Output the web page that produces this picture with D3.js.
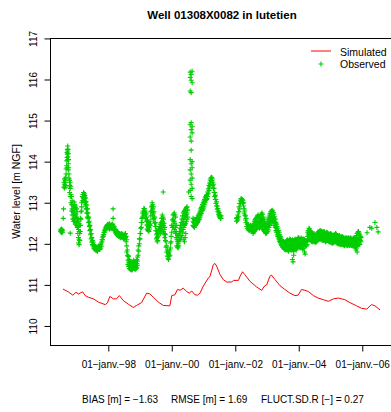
<!DOCTYPE html>
<html>
<head>
<meta charset="utf-8">
<script src="https://cdn.jsdelivr.net/npm/d3@7"></script>
<style>
  html, body { margin: 0; padding: 0; background: #fff; }
  svg { display: block; font-family: "Liberation Sans", Arial, Helvetica, sans-serif; }
</style>
</head>
<body>
<svg id="chart" width="391" height="412"></svg>
<script>
// ---------------- DATA ----------------
const chartTitle = "Well 01308X0082 in lutetien";
const yLabel = "Water level [m NGF]";
const statsTexts = ["BIAS [m] = \u22121.63", "RMSE [m] = 1.69", "FLUCT.SD.R [\u2212] = 0.27"];
const legendLabels = ["Simulated", "Observed"];

const xTickDates = ["1998-01-01", "2000-01-01", "2002-01-01", "2004-01-01", "2006-01-01"];
const xTickLabels = ["01\u2212janv.\u221298", "01\u2212janv.\u221200", "01\u2212janv.\u221202", "01\u2212janv.\u221204", "01\u2212janv.\u221206"];
const yTicks = [110, 111, 112, 113, 114, 115, 116, 117];

// Simulated series (decimal year, level)
const simYears = [1996.57,1996.74,1996.88,1996.98,1997.06,1997.11,1997.19,1997.27,1997.37,1997.53,1997.69,1997.90,1997.97,1998.05,1998.16,1998.26,1998.35,1998.47,1998.63,1998.79,1998.89,1999.05,1999.21,1999.31,1999.42,1999.58,1999.73,1999.94,2000.00,2000.10,2000.18,2000.26,2000.36,2000.47,2000.55,2000.63,2000.73,2000.81,2000.89,2000.99,2001.15,2001.20,2001.31,2001.36,2001.41,2001.52,2001.62,2001.73,2001.89,2001.94,2002.10,2002.15,2002.23,2002.30,2002.46,2002.67,2002.83,2002.93,2002.99,2003.09,2003.14,2003.25,2003.41,2003.56,2003.72,2003.88,2003.98,2004.09,2004.19,2004.30,2004.46,2004.61,2004.77,2004.93,2005.09,2005.24,2005.35,2005.45,2005.61,2005.82,2005.98,2006.14,2006.29,2006.40,2006.56];
const simLevels = [110.90,110.83,110.75,110.82,110.78,110.80,110.83,110.74,110.70,110.66,110.58,110.52,110.56,110.72,110.66,110.66,110.74,110.62,110.53,110.45,110.50,110.57,110.80,110.78,110.70,110.58,110.50,110.49,110.74,110.76,110.89,110.87,110.92,110.84,110.80,110.85,110.76,110.75,110.80,110.97,111.17,111.20,111.50,111.52,111.46,111.25,111.13,111.07,111.07,111.11,111.11,111.21,111.32,111.25,111.09,110.95,110.87,110.98,111.00,111.21,111.24,111.13,110.98,110.89,110.80,110.74,110.75,110.89,110.87,110.84,110.74,110.68,110.64,110.60,110.66,110.68,110.66,110.64,110.57,110.49,110.43,110.41,110.52,110.49,110.39];

// Observed series: each row = [decimal year, level, level, ...]
const observed = [
[1996.50,112.30,112.34],[1996.52,112.27,112.32,112.36],[1996.54,112.29,112.35],[1996.56,112.28,112.33],
[1996.58,112.62],[1996.59,112.85],
[1996.60,113.38,113.50],[1996.62,113.45,113.58,113.36],[1996.64,113.42,113.55],[1996.66,113.50,113.38,113.62],
[1996.67,113.70,113.82],[1996.69,113.90,114.02],[1996.70,114.10,114.22,113.85],[1996.71,114.30,114.18],[1996.72,114.38,114.26,114.05],[1996.73,114.12,114.30],[1996.74,113.95,113.80,114.20],[1996.75,113.85,114.05],[1996.76,113.70,113.60],
[1996.78,113.55,113.42,113.25],[1996.80,113.50,113.35,113.15,112.26],[1996.82,113.40,113.20,113.00],[1996.84,113.15,112.95,112.80],[1996.86,113.05,112.85,112.70],
[1996.88,112.95,112.78,112.60],[1996.90,112.90,112.70,112.55],[1996.92,113.02,112.82,112.62],[1996.94,112.95,112.75,112.55],[1996.96,112.88,112.68,112.48],[1996.98,112.92,112.72,112.52],[1997.00,112.85,112.65,112.45],[1997.02,112.78,112.58,112.40],[1997.04,112.60,112.42,112.25],[1997.06,112.55,112.35,112.15,112.02],[1997.08,112.50,112.30,112.10,111.98],[1997.10,112.45,112.25,112.08],[1997.12,112.62,112.45,112.30],[1997.14,112.78,112.60],
[1997.16,112.90,113.00,112.80],[1997.18,113.05,113.15],[1997.20,113.12,113.20],[1997.22,113.20,113.25,113.10],[1997.24,113.22,113.15,113.05],[1997.26,113.18,113.10,113.00],[1997.28,113.12,113.02,112.95],[1997.30,113.02,112.92,112.85],[1997.32,112.95,112.85,112.75],[1997.34,112.85,112.75,112.65],[1997.36,112.75,112.62],[1997.38,112.65,112.52],[1997.40,112.55,112.42],[1997.42,112.45,112.32],[1997.44,112.35,112.22],[1997.46,112.25,112.12],[1997.48,112.15,112.04],[1997.50,112.08,111.98],[1997.52,112.04,111.95],[1997.54,111.98,111.90],
[1997.56,111.96,111.88],[1997.58,111.94,111.86],[1997.60,111.92,111.85],[1997.62,111.90,111.83],[1997.64,111.92,111.84],[1997.66,111.89,111.82],[1997.68,111.93,111.86],[1997.70,111.95,111.88],[1997.72,111.92,111.86],[1997.74,111.94,111.87],[1997.76,111.98,111.90],[1997.78,112.02,111.94],
[1997.80,112.05,112.10],[1997.82,112.10,112.16],[1997.84,112.18,112.22],[1997.86,112.22,112.28],[1997.88,112.28,112.33],[1997.90,112.32,112.36],[1997.92,112.35,112.40],[1997.94,112.37,112.43],[1997.96,112.40,112.45],[1997.98,112.42,112.47],[1998.00,112.40,112.46],[1998.02,112.38,112.45,112.48],
[1998.04,112.42,112.48,112.36],[1998.06,112.44,112.38],[1998.08,112.46,112.40],[1998.10,112.45,112.38],[1998.12,112.42,112.47],[1998.14,112.40,112.48],[1998.15,112.85,112.62],[1998.16,112.43,112.36],[1998.18,112.42,112.35],[1998.20,112.38,112.32],
[1998.22,112.35,112.28],[1998.24,112.33,112.26],[1998.26,112.30,112.22],[1998.28,112.30,112.23],[1998.30,112.28,112.20],[1998.32,112.26,112.19],[1998.34,112.25,112.18],[1998.36,112.24,112.17],[1998.38,112.22,112.15],[1998.40,112.24,112.16],[1998.42,112.25,112.18],[1998.44,112.23,112.16],[1998.46,112.22,112.15],[1998.48,112.21,112.13],[1998.50,112.20,112.12],[1998.52,112.23,112.14],[1998.54,112.25,112.15],[1998.56,112.18,112.05],
[1998.58,112.10,111.95,111.80],[1998.60,111.85,111.72],[1998.62,111.70,111.60,111.50],
[1998.64,111.70,111.55,111.45],[1998.66,111.62,111.50,111.40],[1998.68,111.58,111.47,111.39],[1998.70,111.55,111.45,111.38],[1998.72,111.52,111.43,111.37],[1998.74,111.50,111.42,111.36],[1998.76,111.54,111.44,111.38],[1998.78,111.56,111.46,111.40],[1998.80,111.60,111.50,111.42],[1998.82,111.56,111.47,111.40],[1998.84,111.52,111.45,111.38],[1998.86,111.55,111.46,111.39],[1998.88,111.58,111.48,111.40],[1998.90,111.62,111.52,111.43],[1998.92,111.68,111.58,111.48],
[1998.94,111.72,111.85],[1998.96,111.82,111.95],[1998.98,112.00,112.12],[1999.00,112.12,112.25],[1999.02,112.25,112.38],[1999.04,112.40,112.52],[1999.06,112.52,112.62],
[1999.08,112.65,112.75],[1999.10,112.70,112.80],[1999.12,112.75,112.86],[1999.14,112.78,112.85],[1999.16,112.80,112.70],[1999.18,112.72,112.62],[1999.20,112.65,112.55,112.75],
[1999.22,112.58,112.46,112.36],[1999.24,112.55,112.44,112.34],[1999.26,112.52,112.42,112.32],[1999.28,112.50,112.40,112.30],[1999.30,112.48,112.36],[1999.32,112.55,112.45],
[1999.34,112.68,112.78],[1999.36,112.80,112.90],[1999.38,112.92,113.00,112.78],[1999.40,112.95,112.85,112.70],[1999.42,112.90,112.75,112.60],[1999.44,112.78,112.62],[1999.46,112.65,112.50],[1999.48,112.52,112.42],
[1999.50,112.42,112.32],[1999.52,112.32,112.22,112.12],[1999.54,112.25,112.15,112.05],[1999.56,112.30,112.18,112.08],[1999.58,112.35,112.22],[1999.60,112.38,112.28],
[1999.62,112.42,112.32],[1999.64,112.48,112.36,112.26],[1999.66,112.52,112.40,112.28],[1999.68,112.62,112.48,112.35],[1999.70,112.70,112.55,112.40],[1999.72,112.65,112.50,112.35],[1999.73,113.26],[1999.74,112.60,112.45,112.30],[1999.76,112.50,112.35,112.22],[1999.78,112.40,112.25,112.15],[1999.80,112.22,112.08],
[1999.82,112.05,111.92],[1999.84,111.95,111.80],[1999.86,111.85,111.70],[1999.88,111.78,111.65],[1999.90,111.75,111.62],[1999.92,111.70,111.80],[1999.94,111.72,111.85],[1999.96,111.90,112.02],[1999.98,112.05,112.18],
[2000.00,112.28,112.45],[2000.02,112.40,112.58],[2000.04,112.60,112.70,112.45],[2000.06,112.72,112.55,112.40],[2000.08,112.75,112.55,112.35],[2000.10,112.70,112.50,112.30],[2000.12,112.65,112.40,112.25],[2000.14,112.45,112.30,112.15],
[2000.16,112.25,112.10,111.95],[2000.18,112.20,112.05,111.92],[2000.20,112.15,112.00,111.90],[2000.22,112.22,112.05,111.95],[2000.24,112.30,112.10],[2000.26,112.38,112.20],
[2000.28,112.45,112.30,112.10],[2000.30,112.52,112.35,112.15],[2000.32,112.60,112.40,112.20],[2000.34,112.68,112.48,112.28],[2000.36,112.75,112.55,112.35],[2000.38,112.78,112.60,112.40,112.10],[2000.40,112.80,112.65,112.45,112.05],[2000.42,112.82,112.68,112.48,112.15],[2000.44,112.85,112.70,112.50,112.25],[2000.46,112.88,112.72,112.55],[2000.48,112.90,112.75,112.60],[2000.50,112.82,112.65],
[2000.53,113.26],
[2000.58,116.18,116.05,115.72,114.90,114.60,114.05,113.80,113.55,113.30],
[2000.61,116.12,115.98,115.68,114.95,114.78,114.50,114.28,113.95,113.70,113.45,113.15],
[2000.64,116.20,115.92,114.85,114.70,114.00,113.85,113.60,113.35,113.10],
[2000.67,112.45,112.55,112.62],[2000.69,112.42,112.52],[2000.71,112.40,112.50,112.60],[2000.73,112.44,112.56],[2000.75,112.45,112.55],[2000.77,112.48,112.58],[2000.79,112.50,112.62],[2000.81,112.52,112.64],[2000.83,112.55,112.68],[2000.85,112.58,112.72],
[2000.87,112.60,112.75],[2000.89,112.65,112.80],[2000.91,112.70,112.85],[2000.93,112.74,112.88],[2000.95,112.80,112.92],[2000.97,112.82,112.96],[2000.99,112.85,113.00],[2001.01,112.90,113.04],[2001.03,112.95,113.08],[2001.05,113.00,113.12],[2001.07,113.05,113.15],[2001.09,113.08,113.18],[2001.11,113.10,113.20],[2001.13,113.15,113.26],
[2001.15,113.22,113.34],[2001.17,113.30,113.42],[2001.19,113.38,113.48],[2001.21,113.45,113.55],[2001.23,113.50,113.60],[2001.25,113.54,113.62],[2001.27,113.55,113.60],[2001.29,113.50,113.42],[2001.31,113.45,113.35],[2001.33,113.35,113.25],
[2001.35,113.25,113.15],[2001.37,113.18,113.08],[2001.39,113.08,112.98],[2001.41,113.02,112.92],[2001.43,112.92,112.84],[2001.45,112.86,112.78],[2001.47,112.80,112.72],[2001.49,112.76,112.68],[2001.51,112.70,112.65],[2001.53,112.68,112.62],[2001.55,112.68,112.62],
[2002.04,112.55,112.62],[2002.06,112.56,112.64],[2002.08,112.60,112.70],[2002.10,112.66,112.78],
[2002.12,112.78,112.90],[2002.14,112.85,112.98],[2002.16,112.98,113.06],[2002.18,113.02,113.10],[2002.20,113.10,113.04],[2002.22,113.08,113.00],[2002.24,112.98,113.05],[2002.26,112.92,113.00],[2002.28,112.85,112.75],[2002.30,112.80,112.70],
[2002.32,112.68,112.58],[2002.34,112.62,112.52],[2002.36,112.52,112.42],[2002.38,112.48,112.38],[2002.40,112.46,112.36],[2002.42,112.44,112.34],[2002.44,112.40,112.32],[2002.46,112.42,112.33],[2002.48,112.45,112.35],[2002.50,112.42,112.32],[2002.52,112.40,112.30],[2002.54,112.42,112.32],
[2002.56,112.45,112.35,112.25],[2002.58,112.50,112.40,112.28],[2002.60,112.55,112.45,112.30],[2002.62,112.58,112.46,112.32],[2002.64,112.60,112.48,112.35],[2002.66,112.62,112.50,112.38],[2002.68,112.65,112.50,112.40],[2002.70,112.68,112.52,112.40],[2002.72,112.70,112.55,112.42],[2002.74,112.66,112.52,112.40],[2002.76,112.62,112.50,112.38],[2002.78,112.65,112.52,112.40],[2002.80,112.70,112.55,112.42],[2002.82,112.72,112.58,112.44],[2002.84,112.75,112.60,112.45],[2002.86,112.72,112.56,112.42],[2002.88,112.65,112.50,112.35],[2002.90,112.60,112.46,112.32],[2002.92,112.55,112.42,112.30],[2002.94,112.50,112.38,112.28],[2002.96,112.45,112.35,112.25],[2002.98,112.46,112.36,112.26],[2003.00,112.50,112.38,112.28],[2003.02,112.55,112.42,112.30],[2003.04,112.60,112.45,112.34],[2003.06,112.65,112.50,112.40],[2003.08,112.70,112.55,112.45],[2003.10,112.74,112.60,112.48],[2003.12,112.78,112.65,112.52],[2003.14,112.80,112.68,112.56],[2003.16,112.82,112.70,112.60],[2003.18,112.80,112.68,112.58],[2003.20,112.76,112.64,112.54],[2003.22,112.72,112.60,112.50],[2003.24,112.66,112.55,112.45],
[2003.26,112.60,112.50,112.40],[2003.28,112.52,112.42,112.32],[2003.30,112.48,112.38,112.28],[2003.32,112.42,112.32,112.22],[2003.34,112.38,112.28,112.18],[2003.36,112.32,112.22,112.14],[2003.38,112.28,112.18,112.10],[2003.40,112.22,112.14,112.06],[2003.42,112.18,112.10,112.03],[2003.44,112.14,112.06,111.99],[2003.46,112.10,112.03,111.96],[2003.48,112.06,111.99,111.93],[2003.50,112.05,111.97,111.91],[2003.52,112.05,111.96,111.90],[2003.54,112.04,111.95,111.88],[2003.56,112.02,111.93,111.86],[2003.58,112.03,111.94,111.86],
[2003.60,112.05,111.95,111.85],[2003.62,112.08,111.97,111.87],[2003.64,112.10,111.98,111.88],[2003.66,112.06,111.96,111.84],[2003.68,112.04,111.94,111.82],[2003.70,112.08,111.97,111.86],[2003.72,112.12,112.00,111.90],[2003.74,112.10,111.98,111.88],[2003.76,112.06,111.95,111.84],[2003.78,112.08,111.96,111.86],[2003.80,112.10,111.98,111.88,111.62],[2003.82,112.08,111.96,111.85,111.56],[2003.84,112.05,111.95,111.82,111.72],[2003.86,112.08,111.97,111.86],[2003.88,112.12,112.00,111.90],[2003.90,112.10,111.98,111.88],[2003.92,112.08,111.96,111.85],[2003.94,112.10,111.99,111.88],[2003.96,112.12,112.02,111.92],[2003.98,112.14,112.03,111.93],[2004.00,112.15,112.05,111.95],[2004.02,112.12,112.02,111.92],[2004.04,112.10,112.00,111.90],[2004.06,112.12,112.01,111.91],[2004.08,112.14,112.02,111.92],[2004.10,112.12,112.00,111.90],[2004.12,112.10,111.98,111.88],[2004.14,112.11,111.99,111.89],[2004.16,112.12,112.00,111.90],[2004.18,112.10,111.99,111.80],[2004.20,112.08,111.98,111.75],[2004.22,112.06,111.96],[2004.24,112.05,111.95],[2004.26,112.08,111.98],
[2004.28,112.28,112.18,112.06],[2004.30,112.32,112.22,112.10],[2004.32,112.38,112.25,112.12],[2004.34,112.36,112.24,112.12],[2004.36,112.32,112.20,112.10],[2004.38,112.30,112.18,112.08],[2004.40,112.26,112.16,112.06],[2004.42,112.24,112.14,112.05],
[2004.44,112.22,112.12,112.05],[2004.46,112.23,112.13,112.06],[2004.48,112.25,112.15,112.08],[2004.50,112.22,112.13,112.05],[2004.52,112.20,112.12,112.04],[2004.54,112.21,112.13,112.05],[2004.56,112.22,112.15,112.05],[2004.58,112.25,112.16,112.07],[2004.60,112.28,112.18,112.10],[2004.62,112.29,112.19,112.11],[2004.64,112.30,112.20,112.12],[2004.66,112.31,112.21,112.12],[2004.68,112.32,112.22,112.12],[2004.70,112.31,112.21,112.11],[2004.72,112.30,112.20,112.10],[2004.74,112.29,112.19,112.09],[2004.76,112.28,112.18,112.08],[2004.78,112.29,112.19,112.09],[2004.80,112.30,112.20,112.10],[2004.82,112.28,112.18,112.08],[2004.84,112.25,112.15,112.05],[2004.86,112.26,112.16,112.06],[2004.88,112.28,112.18,112.08],[2004.90,112.27,112.17,112.08],[2004.92,112.25,112.15,112.08],[2004.94,112.24,112.14,112.06],[2004.96,112.22,112.12,112.05],[2004.98,112.23,112.13,112.04],[2005.00,112.25,112.15,112.05],[2005.02,112.24,112.14,112.04],[2005.04,112.22,112.12,112.02],[2005.06,112.21,112.11,112.02],[2005.08,112.20,112.10,112.02],[2005.10,112.21,112.11,112.03],[2005.12,112.22,112.12,112.05],[2005.14,112.23,112.13,112.05],[2005.16,112.25,112.15,112.05],[2005.18,112.23,112.13,112.04],[2005.20,112.20,112.10,112.02],[2005.22,112.19,112.09,112.01],[2005.24,112.18,112.08,112.00],[2005.26,112.19,112.09,112.00],
[2005.28,112.20,112.10,112.00],[2005.30,112.18,112.08,111.99],[2005.32,112.15,112.05,111.98],[2005.34,112.16,112.06,111.99],[2005.36,112.18,112.08,112.00],[2005.38,112.17,112.07,111.99],[2005.40,112.15,112.05,111.98],[2005.42,112.14,112.05,111.97],[2005.44,112.12,112.05,111.95],[2005.46,112.13,112.06,111.97],[2005.48,112.15,112.08,112.00],[2005.50,112.14,112.05,111.98],[2005.52,112.12,112.02,111.95],[2005.54,112.13,112.03,111.96],[2005.56,112.15,112.05,111.98],[2005.58,112.14,112.05,111.97],[2005.60,112.12,112.04,111.96],[2005.62,112.13,112.04,111.97],[2005.64,112.15,112.05,111.98],[2005.66,112.12,112.04,111.96],[2005.68,112.10,112.02,111.95],[2005.70,112.12,112.03,111.95],[2005.72,112.14,112.05,111.96],[2005.74,112.13,112.04,111.95],[2005.76,112.12,112.02,111.94],[2005.78,112.13,112.03,111.90],[2005.80,112.15,112.05,111.85],[2005.82,112.20,112.08,111.90],[2005.84,112.25,112.10,111.95,111.80],[2005.86,112.28,112.12,111.98],[2005.88,112.30,112.15,112.00],[2005.90,112.26,112.12,111.99],[2005.92,112.22,112.10,111.98],[2005.94,112.18,112.08],[2005.96,112.15,112.05],
[2006.15,112.27],[2006.24,112.40],[2006.30,112.38],[2006.40,112.52],[2006.46,112.40],[2006.50,112.29]
];

const xDomainYears = [1996.164, 2007.0];
const yDomain = [109.537, 117.01];

// ---------------- LAYOUT ----------------
const margin = { left: 50, right: 394, top: 38, bottom: 345 };
const simColor = "#FF0000";
const obsColor = "#00CD00";

function yearToDate(y) {
  const Y = Math.floor(y);
  const s = Date.UTC(Y, 0, 1), e = Date.UTC(Y + 1, 0, 1);
  return new Date(s + (y - Y) * (e - s));
}

const svg = d3.select("#chart");

const x = d3.scaleUtc()
  .domain(xDomainYears.map(yearToDate))
  .range([margin.left, margin.right]);
const y = d3.scaleLinear()
  .domain(yDomain)
  .range([margin.bottom, margin.top]);

// Title
svg.append("text")
  .attr("x", 222).attr("y", 18.5)
  .attr("text-anchor", "middle")
  .attr("font-weight", "bold")
  .attr("font-size", "11.5px")
  .attr("fill", "#000")
  .text(chartTitle);

// Plot box
svg.append("rect")
  .attr("x", margin.left + 0.5).attr("y", margin.top + 0.5)
  .attr("width", margin.right - margin.left)
  .attr("height", margin.bottom - margin.top)
  .attr("fill", "none").attr("stroke", "#000").attr("stroke-width", 1);

// Observed points (plus markers)
const obsPoints = [];
observed.forEach(row => {
  for (let i = 1; i < row.length; i++) obsPoints.push({ t: yearToDate(row[0]), v: row[i] });
});
const r = 2.5;
svg.append("g")
  .selectAll("path")
  .data(obsPoints)
  .join("path")
  .attr("d", d => {
    const cx = x(d.t), cy = y(d.v);
    return `M${cx - r},${cy}H${cx + r}M${cx},${cy - r}V${cy + r}`;
  })
  .attr("stroke", obsColor)
  .attr("stroke-width", 1.1)
  .attr("fill", "none");

// Simulated line
const simData = simYears.map((yr, i) => ({ t: yearToDate(yr), v: simLevels[i] }));
svg.append("path")
  .datum(simData)
  .attr("d", d3.line().x(d => x(d.t)).y(d => y(d.v)))
  .attr("fill", "none")
  .attr("stroke", simColor)
  .attr("stroke-width", 1);

// X axis
const xTickVals = xTickDates.map(s => new Date(s + "T00:00:00Z"));
const xAxis = d3.axisBottom(x)
  .tickValues(xTickVals)
  .tickSize(6)
  .tickPadding(9)
  .tickFormat((d, i) => xTickLabels[i]);
const gx = svg.append("g")
  .attr("transform", `translate(0,${margin.bottom + 0.5})`)
  .call(xAxis);
gx.select(".domain").remove();
gx.selectAll(".tick line").attr("stroke", "#000");
gx.selectAll(".tick text")
  .attr("font-size", "10px")
  .attr("font-family", "'Liberation Sans', Arial, sans-serif")
  .attr("fill", "#000");

// Y axis
const yAxis = d3.axisLeft(y)
  .tickValues(yTicks)
  .tickSize(6)
  .tickFormat(d3.format("d"));
const gy = svg.append("g")
  .attr("transform", `translate(${margin.left + 0.5},0)`)
  .call(yAxis);
gy.select(".domain").remove();
gy.selectAll(".tick line").attr("stroke", "#000");
gy.selectAll(".tick text")
  .attr("font-size", "10px")
  .attr("font-family", "'Liberation Sans', Arial, sans-serif")
  .attr("fill", "#000")
  .attr("text-anchor", "middle")
  .attr("dy", null)
  .attr("x", null)
  .attr("transform", "translate(-14,0) rotate(-90)");

// Y label
svg.append("text")
  .attr("transform", `translate(19.5,${(margin.top + margin.bottom) / 2}) rotate(-90)`)
  .attr("text-anchor", "middle")
  .attr("font-size", "10.5px")
  .attr("fill", "#000")
  .text(yLabel);

// Stats line
const statsX = [82, 171, 261];
statsTexts.forEach((t, i) => {
  svg.append("text")
    .attr("x", statsX[i]).attr("y", 403)
    .attr("font-size", "10px")
    .attr("fill", "#000")
    .text(t);
});

// Legend
const lg = svg.append("g");
lg.append("line")
  .attr("x1", 311).attr("x2", 331).attr("y1", 51).attr("y2", 51)
  .attr("stroke", simColor).attr("stroke-width", 1);
lg.append("path")
  .attr("d", `M${321 - r},64H${321 + r}M321,${64 - r}V${64 + r}`)
  .attr("stroke", obsColor).attr("stroke-width", 1.1).attr("fill", "none");
lg.append("text").attr("x", 340).attr("y", 55.5).attr("font-size", "10.5px").attr("fill", "#000").text(legendLabels[0]);
lg.append("text").attr("x", 340).attr("y", 68.3).attr("font-size", "10.5px").attr("fill", "#000").text(legendLabels[1]);
</script>
</body>
</html>
